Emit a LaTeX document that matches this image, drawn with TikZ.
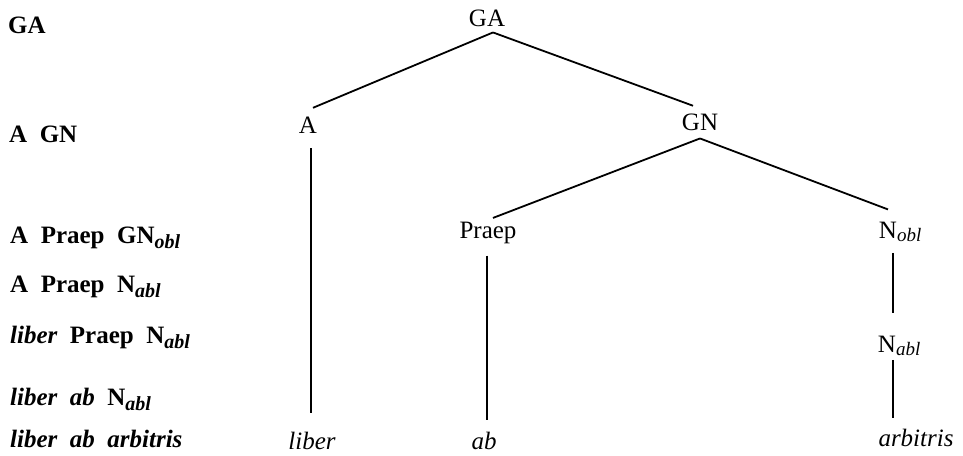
\documentclass[tikz,border=0pt]{standalone}
\usepackage{fontspec}
\setmainfont{Liberation Serif}
\newcommand{\lsub}[1]{\raisebox{-0.45ex}{\fontsize{20}{24}\selectfont\bfseries\itshape #1}}
\newcommand{\tsub}[1]{\raisebox{-0.3ex}{\fontsize{19}{22}\selectfont\itshape #1}}
\begin{document}
\begin{tikzpicture}[x=1pt,y=-1pt,
  lab/.style={anchor=base west,inner sep=0pt,font=\fontsize{25}{30}\selectfont\bfseries},
  tn/.style={anchor=base,inner sep=0pt,font=\fontsize{25}{30}\selectfont},
  tw/.style={anchor=base,inner sep=0pt,font=\fontsize{25}{30}\selectfont\itshape},
  br/.style={line width=1.8pt}]
\useasboundingbox (0,0) rectangle (963,455);
% left column
\node[lab] (r1) at (8,33) {GA};
\node[lab] (r2) at (9,142) {A\ \ GN};
\node[lab] (r3) at (10,243) {A\ \ Praep\ \ GN\lsub{obl}};
\node[lab] (r4) at (10,292) {A\ \ Praep\ \ N\lsub{abl}};
\node[lab] (r5) at (10,343) {\itshape liber\ \ \upshape Praep\ \ N\lsub{abl}};
\node[lab] (r6) at (10,405) {\itshape liber\ \ ab\ \ \upshape N\lsub{abl}};
\node[lab] (r7) at (10,447) {\itshape liber\ \ ab\ \ arbitris};
% tree
\node[tn] (ga) at (487,26) {GA};
\node[tn] (a) at (308,133) {A};
\node[tn] (gn) at (700,130) {GN};
\node[tn] (praep) at (488,238) {Praep};
\node[tn] (nobl) at (888,238) {N\rlap{\tsub{obl}}};
\node[tn] (nabl) at (887,352) {N\rlap{\tsub{abl}}};
\node[tw] (liber) at (312,449) {liber};
\node[tw] (ab) at (484,449) {ab};
\node[tw] (arb) at (916,446) {arbitris};
% branches
\draw[br] ([xshift=6pt,yshift=-6pt]ga.south) -- ([xshift=5pt,yshift=8.5pt]a.north);
\draw[br] ([xshift=6pt,yshift=-6pt]ga.south) -- ([xshift=-7pt,yshift=7.5pt]gn.north);
\draw[br] ([yshift=-8pt]gn.south) -- ([xshift=5pt,yshift=3.5pt]praep.north);
\draw[br] ([yshift=-8pt]gn.south) -- ([yshift=12pt]nobl.north);
\draw[br] ([xshift=3pt,yshift=-15pt]a.south) -- ([xshift=3pt,yshift=18pt]a.south |- liber.north);
\draw[br] ([xshift=-1pt,yshift=-12pt]praep.south) -- ([xshift=-1pt,yshift=11pt]praep.south |- ab.north);
\draw[br] ([xshift=5pt,yshift=-11pt]nobl.south) -- ([xshift=6pt,yshift=22pt]nabl.north);
\draw[br] ([xshift=6pt,yshift=-4pt]nabl.south) -- ([xshift=6pt,yshift=10pt]nabl.south |- arb.north);
\end{tikzpicture}
\end{document}
